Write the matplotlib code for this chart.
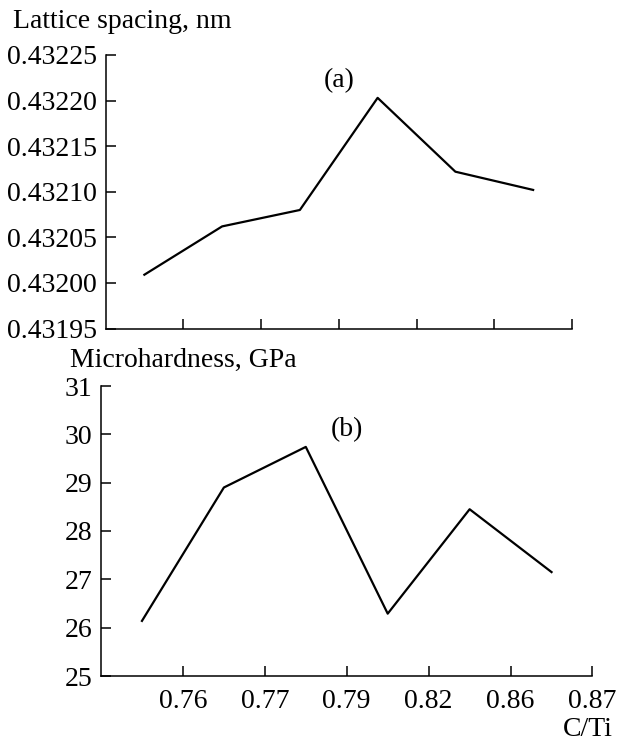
import matplotlib.pyplot as plt

# C/Ti positions (categorical, evenly spaced)
tick_labels = ['0.76', '0.77', '0.79', '0.82', '0.86', '0.87']
x_pos = [0.5, 1.5, 2.5, 3.5, 4.5, 5.5]

lattice = [0.432009, 0.432062, 0.432080, 0.432203, 0.432122, 0.432102]
hardness = [26.14, 28.90, 29.74, 26.29, 28.45, 27.15]

plt.rcParams['font.family'] = ['Liberation Serif', 'DejaVu Serif']
plt.rcParams['font.size'] = 20

W, H = 622, 743
fig = plt.figure(figsize=(W / 100, H / 100), dpi=100)

def box(l, r, t, b):
    return [l / W, 1 - b / H, (r - l) / W, (b - t) / H]

ax1 = fig.add_axes(box(105.5, 572, 55, 328.5))
ax2 = fig.add_axes(box(101, 592.5, 386, 676))

# (a) lattice spacing
ax1.plot(x_pos, lattice, color='black', linewidth=1.6)
ax1.set_xlim(0, 6)
ax1.set_ylim(0.43195, 0.43225)
ax1.set_yticks([0.43195, 0.43200, 0.43205, 0.43210, 0.43215, 0.43220, 0.43225])
ax1.set_yticklabels(['0.43195', '0.43200', '0.43205', '0.43210', '0.43215', '0.43220', '0.43225'])
ax1.set_xticks([1, 2, 3, 4, 5, 6])
ax1.set_xticklabels([])
ax1.text(3.0, 0.432222, '(a)', ha='center', va='center', fontsize=20)
fig.text(13 / W, 1 - 22 / H, 'Lattice spacing, nm', ha='left', va='center', fontsize=20)

# (b) microhardness
ax2.plot(x_pos, hardness, color='black', linewidth=1.6)
ax2.set_xlim(0, 6)
ax2.set_ylim(25, 31)
ax2.set_yticks([25, 26, 27, 28, 29, 30, 31])
ax2.set_xticks([1, 2, 3, 4, 5, 6])
ax2.set_xticklabels(tick_labels)
ax2.text(3.0, 30.1, '(b)', ha='center', va='center', fontsize=20)
fig.text(70 / W, 1 - 360 / H, 'Microhardness, GPa', ha='left', va='center', fontsize=20)
fig.text(613 / W, 1 - 729 / H, 'C/Ti', ha='right', va='center', fontsize=20)

for ax in (ax1, ax2):
    ax.spines['top'].set_visible(False)
    ax.spines['right'].set_visible(False)
    for s in ('left', 'bottom'):
        ax.spines[s].set_linewidth(1.1)
    ax.tick_params(direction='in', length=7, width=1.1, pad=6)
ax2.tick_params(axis='x', pad=9)

fig.savefig('out.png', dpi=100)
